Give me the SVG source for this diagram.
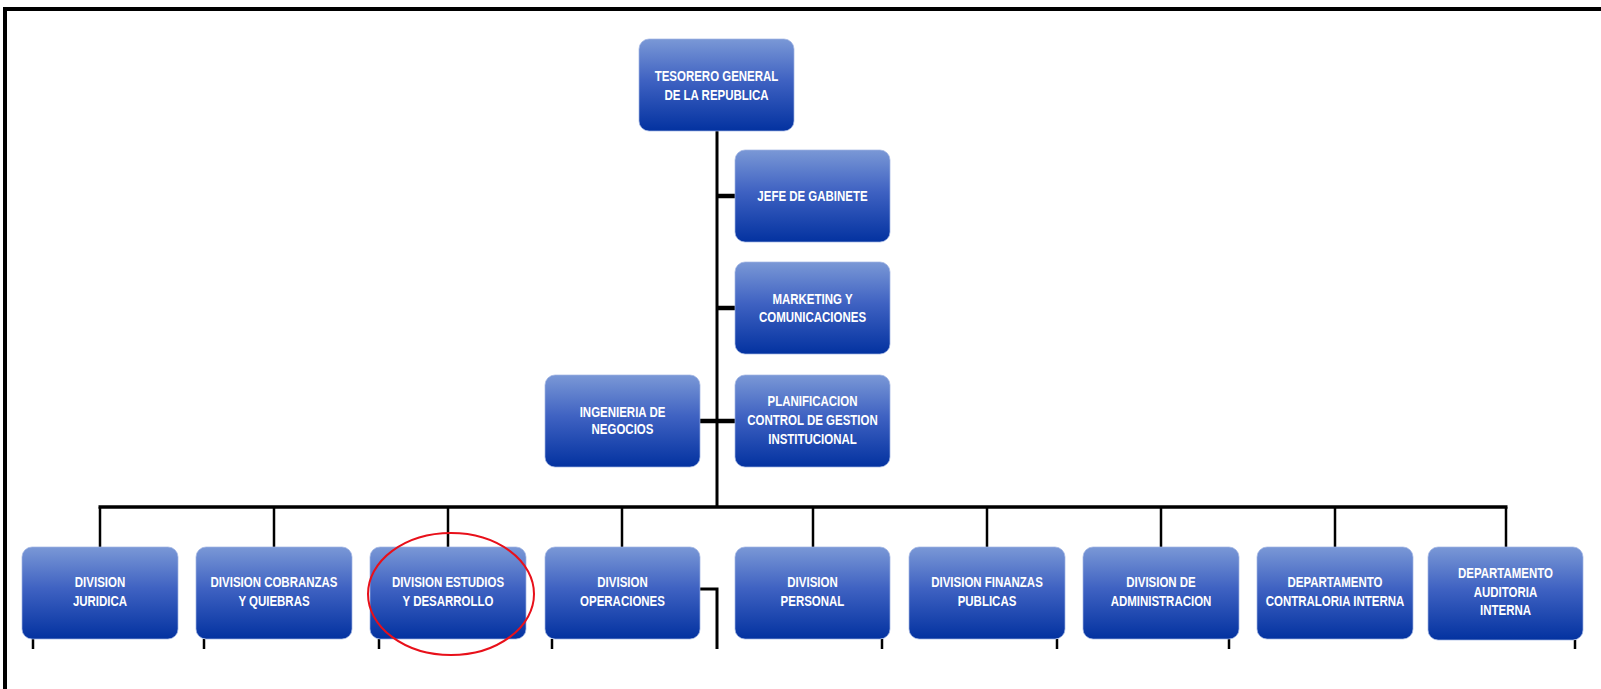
<svg xmlns="http://www.w3.org/2000/svg" width="1601" height="689" viewBox="0 0 1601 689">
<defs>
<linearGradient id="g" x1="0" y1="0" x2="0" y2="1">
<stop offset="0" stop-color="#7a98d6"/>
<stop offset="0.45" stop-color="#3f62c2"/>
<stop offset="1" stop-color="#0332a0"/>
</linearGradient>
</defs>
<style>
.box{fill:url(#g);stroke:#9fb3e2;stroke-width:1;stroke-opacity:0.7}
.t{font-family:"Liberation Sans",Arial,sans-serif;font-weight:bold;font-size:14px;fill:#ffffff;text-anchor:middle}
.c{stroke:#000;fill:none;stroke-linecap:butt}
</style>
<rect width="1601" height="689" fill="#ffffff"/>
<g id="frame">
<line x1="3" y1="9" x2="1601" y2="9" stroke="#000" stroke-width="4"/>
<line x1="5" y1="7" x2="5" y2="689" stroke="#000" stroke-width="4"/>
</g>
<g id="connectors" class="c">
<line x1="717" y1="131" x2="717" y2="508" stroke-width="3"/>
<line x1="717" y1="196" x2="735" y2="196" stroke-width="4.5"/>
<line x1="717" y1="308" x2="735" y2="308" stroke-width="4.5"/>
<line x1="700" y1="421" x2="735" y2="421" stroke-width="4.5"/>
<line x1="98.5" y1="507" x2="1507.5" y2="507" stroke-width="3.5"/>
<line x1="100" y1="507" x2="100" y2="547" stroke-width="2.5"/>
<line x1="274" y1="507" x2="274" y2="547" stroke-width="2.5"/>
<line x1="448" y1="507" x2="448" y2="547" stroke-width="2.5"/>
<line x1="622" y1="507" x2="622" y2="547" stroke-width="2.5"/>
<line x1="813" y1="507" x2="813" y2="547" stroke-width="2.5"/>
<line x1="987" y1="507" x2="987" y2="547" stroke-width="2.5"/>
<line x1="1161" y1="507" x2="1161" y2="547" stroke-width="2.5"/>
<line x1="1335" y1="507" x2="1335" y2="547" stroke-width="2.5"/>
<line x1="1506" y1="507" x2="1506" y2="547" stroke-width="2.5"/>
<polyline points="700,589 717,589 717,649" stroke-width="3"/>
<line x1="33" y1="639" x2="33" y2="649" stroke-width="2.5"/>
<line x1="204" y1="639" x2="204" y2="649" stroke-width="2.5"/>
<line x1="379" y1="639" x2="379" y2="649" stroke-width="2.5"/>
<line x1="552" y1="639" x2="552" y2="649" stroke-width="2.5"/>
<line x1="882" y1="639" x2="882" y2="649" stroke-width="2.5"/>
<line x1="1057" y1="639" x2="1057" y2="649" stroke-width="2.5"/>
<line x1="1229" y1="639" x2="1229" y2="649" stroke-width="2.5"/>
<line x1="1575" y1="640" x2="1575" y2="649" stroke-width="2.5"/>
</g>
<g id="tesorero">
<rect class="box" x="639" y="39" width="155" height="92" rx="10"/>
<text class="t" transform="translate(716.5 80.5) scale(0.82 1)">TESORERO GENERAL</text>
<text class="t" transform="translate(716.5 99.5) scale(0.82 1)">DE LA REPUBLICA</text>
</g>
<g id="jefe">
<rect class="box" x="735" y="150" width="155" height="92" rx="10"/>
<text class="t" transform="translate(812.5 201) scale(0.82 1)">JEFE DE GABINETE</text>
</g>
<g id="marketing">
<rect class="box" x="735" y="262" width="155" height="92" rx="10"/>
<text class="t" transform="translate(812.5 303.5) scale(0.82 1)">MARKETING Y</text>
<text class="t" transform="translate(812.5 322) scale(0.82 1)">COMUNICACIONES</text>
</g>
<g id="planificacion">
<rect class="box" x="735" y="375" width="155" height="92" rx="10"/>
<text class="t" transform="translate(812.5 406) scale(0.82 1)">PLANIFICACION</text>
<text class="t" transform="translate(812.5 425) scale(0.82 1)">CONTROL DE GESTION</text>
<text class="t" transform="translate(812.5 443.5) scale(0.82 1)">INSTITUCIONAL</text>
</g>
<g id="ingenieria">
<rect class="box" x="545" y="375" width="155" height="92" rx="10"/>
<text class="t" transform="translate(622.5 416.5) scale(0.82 1)">INGENIERIA DE</text>
<text class="t" transform="translate(622.5 434) scale(0.82 1)">NEGOCIOS</text>
</g>
<g id="juridica">
<rect class="box" x="22" y="547" width="156" height="92" rx="10"/>
<text class="t" transform="translate(100 587) scale(0.82 1)">DIVISION</text>
<text class="t" transform="translate(100 606) scale(0.82 1)">JURIDICA</text>
</g>
<g id="cobranzas">
<rect class="box" x="196" y="547" width="156" height="92" rx="10"/>
<text class="t" transform="translate(274 587) scale(0.82 1)">DIVISION COBRANZAS</text>
<text class="t" transform="translate(274 606) scale(0.82 1)">Y QUIEBRAS</text>
</g>
<g id="estudios">
<rect class="box" x="370" y="547" width="156" height="92" rx="10"/>
<text class="t" transform="translate(448 587) scale(0.82 1)">DIVISION ESTUDIOS</text>
<text class="t" transform="translate(448 606) scale(0.82 1)">Y DESARROLLO</text>
</g>
<g id="operaciones">
<rect class="box" x="545" y="547" width="155" height="92" rx="10"/>
<text class="t" transform="translate(622.5 587) scale(0.82 1)">DIVISION</text>
<text class="t" transform="translate(622.5 606) scale(0.82 1)">OPERACIONES</text>
</g>
<g id="personal">
<rect class="box" x="735" y="547" width="155" height="92" rx="10"/>
<text class="t" transform="translate(812.5 587) scale(0.82 1)">DIVISION</text>
<text class="t" transform="translate(812.5 606) scale(0.82 1)">PERSONAL</text>
</g>
<g id="finanzas">
<rect class="box" x="909" y="547" width="156" height="92" rx="10"/>
<text class="t" transform="translate(987 587) scale(0.82 1)">DIVISION FINANZAS</text>
<text class="t" transform="translate(987 606) scale(0.82 1)">PUBLICAS</text>
</g>
<g id="administracion">
<rect class="box" x="1083" y="547" width="156" height="92" rx="10"/>
<text class="t" transform="translate(1161 587) scale(0.82 1)">DIVISION DE</text>
<text class="t" transform="translate(1161 606) scale(0.82 1)">ADMINISTRACION</text>
</g>
<g id="contraloria">
<rect class="box" x="1257" y="547" width="156" height="92" rx="10"/>
<text class="t" transform="translate(1335 587) scale(0.82 1)">DEPARTAMENTO</text>
<text class="t" transform="translate(1335 606) scale(0.82 1)">CONTRALORIA INTERNA</text>
</g>
<g id="auditoria">
<rect class="box" x="1428" y="547" width="155" height="93" rx="10"/>
<text class="t" transform="translate(1505.5 578) scale(0.82 1)">DEPARTAMENTO</text>
<text class="t" transform="translate(1505.5 596.5) scale(0.82 1)">AUDITORIA</text>
<text class="t" transform="translate(1505.5 615) scale(0.82 1)">INTERNA</text>
</g>
<g id="highlight">
<ellipse cx="451" cy="594" rx="83" ry="61" fill="none" stroke="#e8101a" stroke-width="2"/>
</g>
</svg>
